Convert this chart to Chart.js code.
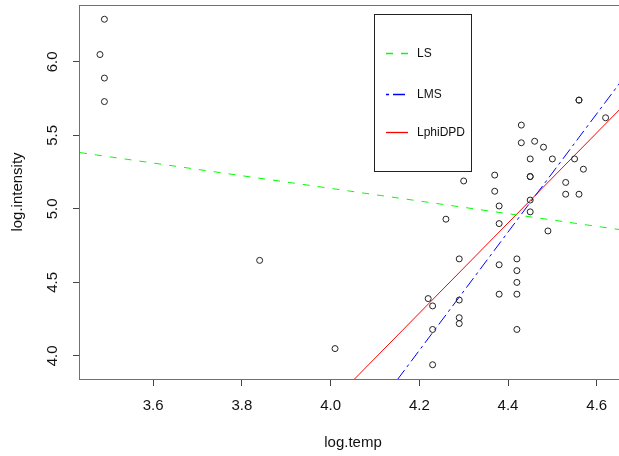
<!DOCTYPE html>
<html>
<head>
<meta charset="utf-8">
<script src="https://cdn.jsdelivr.net/npm/chart.js@4"></script>
<style>
  html, body { margin: 0; padding: 0; background: #fff; overflow: hidden; }
  #plot { display: block; }
</style>
</head>
<body>
<canvas id="plot" width="640" height="456"></canvas>
<script>
// log.temp / log.intensity points
const logTemp = [4.37, 4.56, 4.26, 4.56, 4.30, 4.46, 3.84, 4.57, 4.37, 3.49,
  4.43, 4.48, 4.01, 4.29, 4.42, 4.23, 4.42, 4.23, 3.49, 4.29,
  4.29, 4.42, 4.49, 4.38, 4.42, 4.29, 4.38, 4.22, 3.48, 4.38,
  4.56, 4.45, 3.49, 4.23, 4.62, 4.53, 4.45, 4.53, 4.43, 4.38,
  4.45, 4.50, 4.45, 4.55, 4.45, 4.42];
const logIntensity = [5.23, 5.74, 4.93, 5.74, 5.19, 5.46, 4.65, 5.27, 5.12, 5.73,
  5.45, 5.42, 4.05, 4.26, 4.58, 3.94, 4.18, 4.18, 5.89, 4.38,
  4.22, 4.42, 4.85, 5.02, 4.66, 4.66, 4.90, 4.39, 6.05, 4.42,
  5.10, 5.22, 6.29, 4.34, 5.62, 5.10, 5.22, 5.18, 5.57, 4.62,
  5.06, 5.34, 5.34, 5.34, 4.98, 4.50];

// fitted lines, end points (x, y)
const lsLine = [[3.435, 5.383], [4.666, 4.853]];
const lmsLine = [[4.141, 3.80], [4.666, 5.913]];
const dpdLine = [[4.040, 3.80], [4.666, 5.720]];

const xTicks = [3.6, 3.8, 4.0, 4.2, 4.4, 4.6];
const yTicks = [4.0, 4.5, 5.0, 5.5, 6.0];
const xRange = [3.435, 4.666];
const yRange = [3.843, 6.387];

const legendItems = [
  { text: 'LS', color: '#00ff00', dash: [7, 8] },
  { text: 'LMS', color: '#0000ff', dash: [3, 4, 12, 4] },
  { text: 'LphiDPD', color: '#ff0000', dash: [] }
];

const FONT = 'Arial, "Liberation Sans", sans-serif';

const toXY = (pts) => pts.map(p => ({ x: p[0], y: p[1] }));

const framePlugin = {
  id: 'frame',
  afterDraw(chart) {
    const ctx = chart.ctx;
    const a = chart.chartArea;
    ctx.save();
    ctx.strokeStyle = '#707070';
    ctx.lineWidth = 1;
    ctx.strokeRect(a.left - 0.5, a.top + 0.5, a.right - a.left, a.bottom - a.top);

    // legend box
    ctx.strokeStyle = '#222';
    ctx.strokeRect(374.5, 14.5, 97, 157);
    const rows = [53.5, 94.5, 132.5];
    ctx.font = '12px ' + FONT;
    ctx.textBaseline = 'middle';
    ctx.textAlign = 'left';
    legendItems.forEach((it, i) => {
      ctx.strokeStyle = it.color;
      ctx.lineWidth = 1.3;
      ctx.setLineDash(it.dash);
      ctx.beginPath();
      ctx.moveTo(386, rows[i]);
      ctx.lineTo(408, rows[i]);
      ctx.stroke();
      ctx.setLineDash([]);
      ctx.fillStyle = '#111';
      ctx.fillText(it.text, 417, rows[i]);
    });
    ctx.restore();
  }
};

new Chart(document.getElementById('plot'), {
  type: 'scatter',
  data: {
    datasets: [{
      label: 'stars',
      data: logTemp.map((v, i) => ({ x: v, y: logIntensity[i] })),
      pointRadius: 3,
      pointBorderWidth: 1,
      pointBorderColor: '#222',
      pointBackgroundColor: 'rgba(0,0,0,0)'
    }, {
      type: 'line',
      label: 'LS',
      data: toXY(lsLine),
      borderColor: '#00ff00',
      borderWidth: 1,
      borderDash: [7, 8],
      pointRadius: 0
    }, {
      type: 'line',
      label: 'LMS',
      data: toXY(lmsLine),
      borderColor: '#0000ff',
      borderWidth: 1,
      borderDash: [3, 4, 12, 4],
      pointRadius: 0
    }, {
      type: 'line',
      label: 'LphiDPD',
      data: toXY(dpdLine),
      borderColor: '#ff0000',
      borderWidth: 1,
      pointRadius: 0
    }]
  },
  options: {
    responsive: false,
    animation: false,
    devicePixelRatio: 1,
    layout: { padding: { left: 0, top: 2, right: 14, bottom: 0 } },
    plugins: {
      legend: { display: false },
      tooltip: { enabled: false }
    },
    scales: {
      x: {
        type: 'linear',
        min: xRange[0],
        max: xRange[1],
        afterBuildTicks: (s) => { s.ticks = xTicks.map(v => ({ value: v })); },
        afterFit: (s) => { s.height = 77; s.paddingLeft = 0; s.paddingRight = 0; },
        border: { display: false },
        grid: { drawOnChartArea: false, drawTicks: true, tickLength: 7, color: '#444' },
        ticks: {
          padding: 11,
          color: '#111',
          font: { family: FONT, size: 15 },
          maxRotation: 0,
          callback: (v) => v.toFixed(1)
        },
        title: {
          display: true,
          text: 'log.temp',
          color: '#111',
          font: { family: FONT, size: 15 },
          padding: { top: 0, bottom: 4 }
        }
      },
      y: {
        type: 'linear',
        min: yRange[0],
        max: yRange[1],
        afterBuildTicks: (s) => { s.ticks = yTicks.map(v => ({ value: v })); },
        afterFit: (s) => { s.width = 80; s.paddingTop = 0; s.paddingBottom = 0; },
        border: { display: false },
        grid: { drawOnChartArea: false, drawTicks: true, tickLength: 7, color: '#444' },
        ticks: {
          padding: 10,
          color: '#111',
          crossAlign: 'center',
          minRotation: 90,
          maxRotation: 90,
          font: { family: FONT, size: 15 },
          callback: (v) => v.toFixed(1)
        },
        title: {
          display: true,
          text: 'log.intensity',
          color: '#111',
          font: { family: FONT, size: 15 },
          padding: { top: 9, bottom: 0 }
        }
      }
    }
  },
  plugins: [framePlugin]
});
</script>
</body>
</html>
